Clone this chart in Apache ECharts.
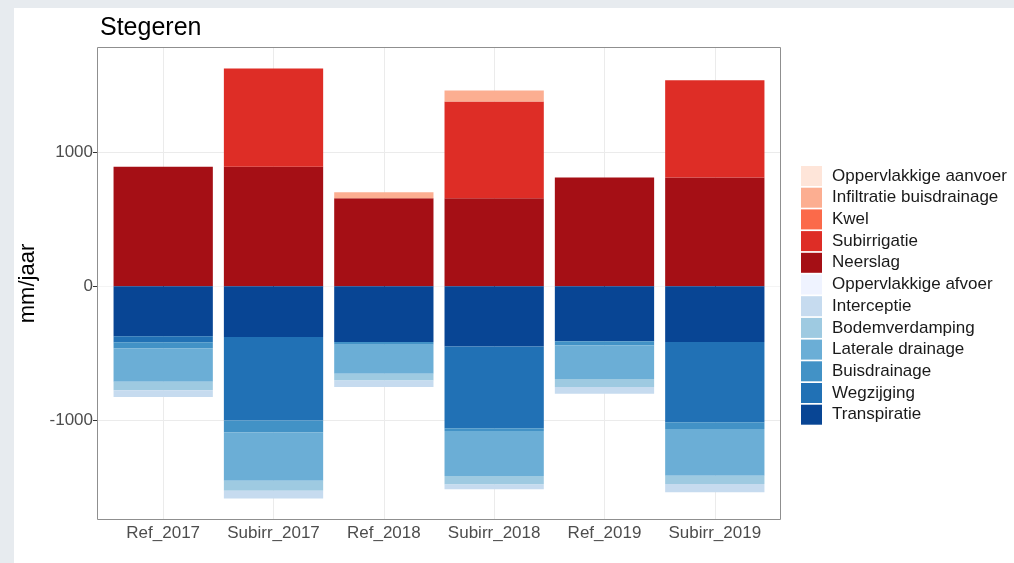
<!DOCTYPE html>
<html>
<head>
<meta charset="utf-8">
<title>Stegeren</title>
<script src="https://cdn.jsdelivr.net/npm/echarts@6/dist/echarts.min.js"></script>
<style>
  html, body { margin: 0; padding: 0; background: #e7ebef; }
  #sheet { position: absolute; left: 14px; top: 8px; width: 1000px; height: 555px; background: #ffffff; }
  #chart { position: absolute; left: 0; top: 0; width: 1014px; height: 563px; }
</style>
</head>
<body>
<div id="sheet"></div>
<div id="chart"></div>
<script>
// Water balance per scenario (mm/jaar): inflows positive, outflows negative
const categories = ['Ref_2017', 'Subirr_2017', 'Ref_2018', 'Subirr_2018', 'Ref_2019', 'Subirr_2019'];

// inflows
const neerslag              = [888, 888, 654, 654, 808, 808];
const subirrigatie          = [0, 732, 0, 721, 0, 724];
const kwel                  = [0, 0, 0, 0, 0, 0];
const infiltratieBuisdrain  = [0, 0, 45, 82, 0, 0];
const oppervlakkigeAanvoer  = [0, 0, 0, 0, 0, 0];

// outflows
const transpiratie          = [-372, -378, -416, -448, -410, -415];
const wegzijging            = [-45, -622, 0, -610, 0, -597];
const buisdrainage          = [-45, -87, -20, -20, -30, -50];
const lateraleDrainage      = [-250, -360, -215, -335, -250, -348];
const bodemverdamping       = [-62, -75, -50, -62, -60, -62];
const interceptie           = [-50, -58, -50, -37, -50, -62];
const oppervlakkigeAfvoer   = [0, 0, 0, 0, 0, 0];

const yTicks = [-1000, 0, 1000];

// stacking order from zero outwards
const seriesDefs = [
  { name: 'Neerslag', data: neerslag, color: '#a50f15' },
  { name: 'Subirrigatie', data: subirrigatie, color: '#de2d26' },
  { name: 'Kwel', data: kwel, color: '#fb6a4a' },
  { name: 'Infiltratie buisdrainage', data: infiltratieBuisdrain, color: '#fcae91' },
  { name: 'Oppervlakkige aanvoer', data: oppervlakkigeAanvoer, color: '#fee5d9' },
  { name: 'Transpiratie', data: transpiratie, color: '#084594' },
  { name: 'Wegzijging', data: wegzijging, color: '#2171b5' },
  { name: 'Buisdrainage', data: buisdrainage, color: '#4292c6' },
  { name: 'Laterale drainage', data: lateraleDrainage, color: '#6baed6' },
  { name: 'Bodemverdamping', data: bodemverdamping, color: '#9ecae1' },
  { name: 'Interceptie', data: interceptie, color: '#c6dbef' },
  { name: 'Oppervlakkige afvoer', data: oppervlakkigeAfvoer, color: '#eff3ff' }
];

// legend order (top to bottom)
const legendOrder = [
  'Oppervlakkige aanvoer', 'Infiltratie buisdrainage', 'Kwel', 'Subirrigatie', 'Neerslag',
  'Oppervlakkige afvoer', 'Interceptie', 'Bodemverdamping', 'Laterale drainage',
  'Buisdrainage', 'Wegzijging', 'Transpiratie'
];

// value range: stacked extremes with 5% padding on each side
let posMax = 0, negMin = 0;
categories.forEach((c, i) => {
  let p = 0, n = 0;
  seriesDefs.forEach(s => { const v = s.data[i]; if (v > 0) p += v; else n += v; });
  posMax = Math.max(posMax, p); negMin = Math.min(negMin, n);
});
const pad = (posMax - negMin) * 0.05;
const yMin = negMin - pad;
const yMax = posMax + pad;

// panel geometry
const panel = { left: 97, top: 47, width: 684, height: 473 };
const step = panel.width / (categories.length - 1 + 1.2);
const inner = { left: panel.left + 0.6 * step, width: (categories.length - 1) * step };

const FONT = '"Liberation Sans", Arial, Helvetica, sans-serif';

const chart = echarts.init(document.getElementById('chart'), null, { renderer: 'canvas' });

chart.setOption({
  animation: false,
  backgroundColor: 'transparent',
  textStyle: { fontFamily: FONT },
  title: {
    text: 'Stegeren',
    left: 95, top: 11,
    textStyle: { fontFamily: FONT, fontSize: 25, fontWeight: 'normal', color: '#000000' }
  },
  legend: {
    orient: 'vertical',
    left: 801, top: 166,
    padding: 0,
    itemWidth: 21, itemHeight: 20, itemGap: 1.7,
    icon: 'rect',
    selectedMode: false,
    data: legendOrder,
    textStyle: { fontFamily: FONT, fontSize: 17, color: '#1a1a1a', lineHeight: 20, padding: [0, 0, 0, 5] }
  },
  grid: [
    { left: panel.left, top: panel.top, width: panel.width, height: panel.height, containLabel: false },
    { left: inner.left, top: panel.top, width: inner.width, height: panel.height, containLabel: false }
  ],
  xAxis: [
    { gridIndex: 0, type: 'value', show: false, min: 0, max: 1 },
    {
      gridIndex: 1, type: 'category', data: categories, boundaryGap: false,
      axisLine: { show: false },
      axisTick: { show: true, length: 4, interval: 0, lineStyle: { color: '#333333' } },
      axisLabel: { margin: 5, interval: 0, hideOverlap: false, fontSize: 17, color: '#4d4d4d', fontFamily: FONT },
      splitLine: { show: true, interval: 0, lineStyle: { color: '#ebebeb', width: 1 } }
    }
  ],
  yAxis: [
    {
      gridIndex: 0, type: 'value', min: yMin, max: yMax, splitNumber: 7,
      name: 'mm/jaar', nameLocation: 'middle', nameGap: 34, nameRotate: 90,
      nameTextStyle: { fontFamily: FONT, fontSize: 22, color: '#000000' },
      axisLine: { show: false },
      axisTick: { show: true, length: 4, lineStyle: { color: '#333333' }, customValues: yTicks },
      axisLabel: {
        margin: 4, fontSize: 17, color: '#4d4d4d', fontFamily: FONT, customValues: yTicks,
        formatter: v => String(Math.round(v))
      },
      splitLine: { show: true, lineStyle: { color: ['#ebebeb', '#f4f4f4'], width: 1 } }
    },
    {
      gridIndex: 1, type: 'value', min: yMin, max: yMax, show: false,
      splitLine: { show: false }
    }
  ],
  series: seriesDefs.map(s => ({
    name: s.name,
    type: 'bar',
    xAxisIndex: 1,
    yAxisIndex: 1,
    stack: 'balans',
    barWidth: '90%',
    clip: false,
    itemStyle: { color: s.color, borderWidth: 0 },
    emphasis: { disabled: true },
    data: s.data
  })),
  graphic: [{
    type: 'rect',
    z: 100,
    silent: true,
    shape: { x: panel.left + 0.5, y: panel.top + 0.5, width: panel.width - 1, height: panel.height - 1 },
    style: { fill: null, stroke: '#8f8f8f', lineWidth: 1 }
  }]
});
</script>
</body>
</html>
